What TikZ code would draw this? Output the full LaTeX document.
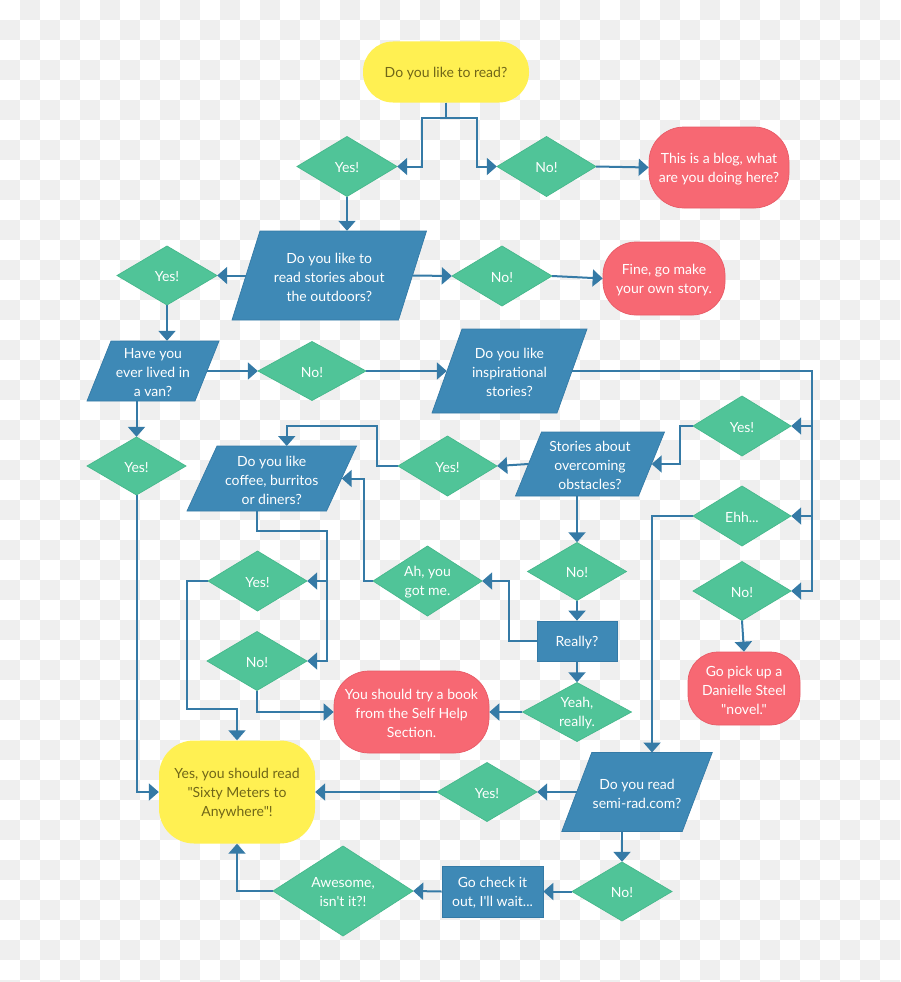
\documentclass[tikz,border=0pt]{standalone}
\usepackage{fontspec}
\setmainfont{Lato}[Ligatures=TeXOff]
\usetikzlibrary{arrows.meta,calc}
\definecolor{greenc}{RGB}{80,196,152}
\definecolor{greenb}{RGB}{70,184,140}
\definecolor{bluec}{RGB}{62,137,182}
\definecolor{blueb}{RGB}{52,122,166}
\definecolor{connc}{RGB}{53,122,166}
\definecolor{redc}{RGB}{247,104,115}
\definecolor{redb}{RGB}{232,90,102}
\definecolor{yellowc}{RGB}{255,240,82}
\definecolor{yellowt}{RGB}{112,102,24}
\definecolor{checkc}{RGB}{239,239,239}
\tikzset{
  conn/.style={draw=connc, line width=2pt, -{Triangle[length=10pt,width=17pt]}},
  txt/.style={text=white, align=center, inner sep=0pt, font=\fontsize{14}{19}\selectfont},
  shp/.style={inner sep=0pt},
  dfill/.style={fill=greenc, draw=greenb, line width=0.7pt},
  pfill/.style={fill=bluec, draw=blueb, line width=0.7pt},
  bluebox/.style={shp, fill=bluec, draw=blueb, line width=0.7pt},
  redterm/.style={shp, fill=redc, draw=redb, line width=0.7pt},
  yellowterm/.style={shp, fill=yellowc, draw=none},
}
% diamond: name, cx, cy, w, h, text
\newcommand\dia[6]{%
  \path[dfill] (#2-#4/2,#3) -- (#2,#3-#5/2) -- (#2+#4/2,#3) -- (#2,#3+#5/2) -- cycle;
  \node[shp, minimum width=#4, minimum height=#5] (#1) at (#2,#3) {};
  \node[txt] (#1-l) at (#2,#3+1.5) {#6};
}
% parallelogram: name, cx, cy, w, h, slant, text
\newcommand\para[7]{%
  \path[pfill] (#2-#4/2-#6/2,#3+#5/2) -- (#2+#4/2-#6/2,#3+#5/2) -- (#2+#4/2+#6/2,#3-#5/2) -- (#2-#4/2+#6/2,#3-#5/2) -- cycle;
  \node[shp, minimum width=#4, minimum height=#5] (#1) at (#2,#3) {};
  \node[txt] (#1-l) at (#2,#3+1.5) {#7};
  \coordinate (#1-t) at (#2+#6/2,#3-#5/2);
  \coordinate (#1-b) at (#2-#6/2,#3+#5/2);
}
% box or terminal: name, style, cx, cy, w, h, corner radius, text
\newcommand\term[8]{%
  \node[#2, minimum width=#5, minimum height=#6, rounded corners=#7] (#1) at (#3,#4) {};
  \node[txt] (#1-l) at (#3,#4+1.5) {#8};
}
\begin{document}
\begin{tikzpicture}[x=1pt,y=-1pt]
\useasboundingbox (0,0) rectangle (900,982);
% background checkerboard
\begin{scope}
  \clip (0,0) rectangle (900,982);
  \fill[white] (0,0) rectangle (900,982);
  \foreach \i in {0,...,44}{\foreach \j in {0,...,49}{
    \pgfmathtruncatemacro\chk{mod(\i+\j,2)}
    \ifnum\chk=1 \fill[checkc] (\i*20,\j*20) rectangle ++(20,20);\fi
  }}
\end{scope}

% terminals
\term{start}{yellowterm}{446}{72}{166}{61}{30}{\color{yellowt}Do you like to read?}
\term{blog}{redterm}{719}{167.5}{140}{81}{35}{This is a blog, what\\are you doing here?}
\term{fine}{redterm}{664}{278.5}{122}{73}{33}{Fine, go make\\your own story.}
\term{dan}{redterm}{744}{688.5}{112}{73}{30}{Go pick up a\\Danielle Steel\\"novel."}
\term{help}{redterm}{411.5}{712}{155}{82}{35}{You should try a book\\from the Self Help\\Section.}
\term{sixty}{yellowterm}{237}{792}{156}{103}{35}{\color{yellowt}Yes, you should read\\\color{yellowt}"Sixty Meters to\\\color{yellowt}Anywhere"!}

% boxes
\term{really}{bluebox}{577}{641}{80}{40}{0}{Really?}
\term{check}{bluebox}{492.5}{891.5}{101}{51}{0}{Go check it\\out, I'll wait...}

% parallelograms
\para{q1}{329.25}{275.5}{166.5}{89}{28}{Do you like to\\read stories about\\the outdoors?}
\para{van}{153}{371}{108}{60}{24}{Have you\\ever lived in\\a van?}
\para{insp}{509.5}{371}{125}{84}{30}{Do you like\\inspirational\\stories?}
\para{obst}{590}{464}{123}{64}{26}{Stories about\\overcoming\\obstacles?}
\para{cof}{271.75}{478.5}{139.5}{65}{30}{Do you like\\coffee, burritos\\or diners?}
\para{semi}{637}{792}{120.5}{79}{30}{Do you read\\semi-rad.com?}

% diamonds
\dia{yes1}{347}{166.5}{100}{60}{Yes!}
\dia{no1}{546.5}{166.5}{99}{60}{No!}
\dia{yes2}{167}{275.5}{100}{59}{Yes!}
\dia{no2}{502}{276}{100}{60}{No!}
\dia{no3}{312}{371}{108}{59}{No!}
\dia{yes7}{136.5}{466}{99}{58}{Yes!}
\dia{yes3}{742}{426}{98}{60}{Yes!}
\dia{ehh}{742}{516}{98}{60}{Ehh...}
\dia{no4}{742}{591}{98}{59}{No!}
\dia{yes4}{447.5}{466}{99}{60}{Yes!}
\dia{yes5}{257.5}{581}{99}{60}{Yes!}
\dia{no5}{257}{661}{100}{59}{No!}
\dia{ah}{427.5}{581}{109}{70}{Ah, you\\got me.}
\dia{no6}{577}{571.5}{99}{58}{No!}
\dia{yeah}{577}{712}{109}{59}{Yeah,\\really.}
\dia{yes6}{487}{792}{100}{59}{Yes!}
\dia{no7}{622}{891.5}{100}{59}{No!}
\dia{awe}{343}{891}{140}{90}{Awesome,\\isn't it?!}

\coordinate (rail) at (812,371);
\coordinate (crail) at (327,531);

% connectors
\draw[conn] (start.south) |- (422,118) |- (yes1.east);
\draw[conn] (start.south) |- (477,118) |- (no1.west);
\draw[conn] (no1.east) -- (blog.west);
\draw[conn] (yes1.south) -- (yes1.south |- q1.north);
\draw[conn] (q1.west) -- (yes2.east);
\draw[conn] (q1.east) -- (no2.west);
\draw[conn] (no2.east) -- (fine.west);
\draw[conn] (yes2.south) -- (yes2.south |- van.north);
\draw[conn] (van.east) -- (no3.west);
\draw[conn] (no3.east) -- (insp.west);
\draw[conn] (insp.east) -- (rail) |- (no4.east);
\draw[conn] (yes3.east -| rail) -- (yes3.east);
\draw[conn] (ehh.east -| rail) -- (ehh.east);
\draw[conn] (yes3.west) -- ++(-13,0) |- (obst.east);
\draw[conn] (obst.west) -- (yes4.east);
\draw[conn] (yes4.west) -- ++(-21,0) |- ($(cof-t)+(0,-20)$) -- (cof-t);
\draw[conn] (cof-b) |- (crail) |- (no5.east);
\draw[conn] (yes5.east -| crail) -- (yes5.east);
\draw[conn] (yes5.west) -- ++(-21,0) |- ($(sixty.north)+(0,-31)$) -- (sixty.north);
\draw[conn] (no5.south) |- (help.west);
\draw[conn] (yeah.west) -- (help.east);
\draw[conn] (really.south) -- (yeah.north);
\draw[conn] (really.west) -- ++(-28,0) |- (ah.east);
\draw[conn] (ah.west) -- ++(-9,0) |- (cof.east);
\draw[conn] (obst-b) -- (no6.north);
\draw[conn] (no6.south) -- (really.north);
\draw[conn] (ehh.west) -| (semi-t);
\draw[conn] (no4.south) -- (dan.north);
\draw[conn] (semi.west) -- (yes6.east);
\draw[conn] (yes6.west) -- (sixty.east);
\draw[conn] (yes7.north |- van.south) -- (yes7.north);
\draw[conn] (yes7.south) |- (sixty.west);
\draw[conn] (semi-b) -- (no7.north);
\draw[conn] (no7.west) -- (check.east);
\draw[conn] (check.west) -- (awe.east);
\draw[conn] (awe.west) -| (sixty.south);
\end{tikzpicture}
\end{document}
